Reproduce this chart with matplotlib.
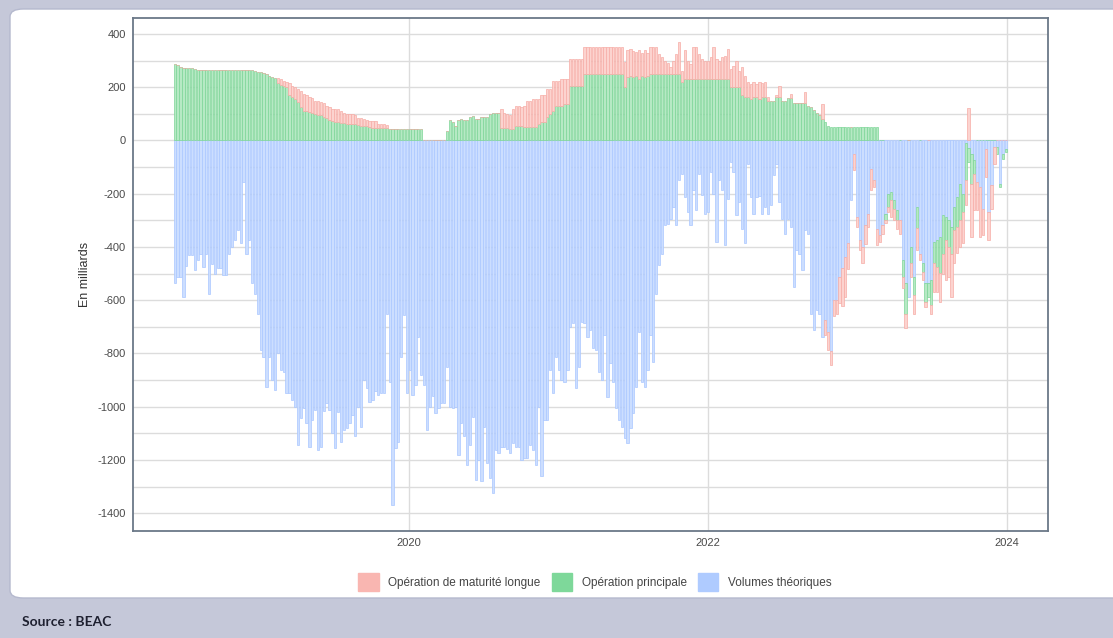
import numpy as np
import pandas as pd
import matplotlib.pyplot as plt
import matplotlib.dates as mdates
from matplotlib.patches import Patch, FancyBboxPatch

# weekly series (en milliards)
start_date = "2018-06-08"

op_principale = [
    287, 283, 275, 274, 273, 273, 272, 270, 266, 265, 265, 265, 265, 265, 265, 265, 265, 265,
    265, 265, 265, 265, 265, 265, 265, 265, 265, 263, 262, 258, 256, 252, 248, 244, 240, 236,
    215, 210, 206, 200, 170, 162, 155, 145, 125, 112, 110, 108, 103, 100, 96, 94, 90, 85,
    75, 72, 70, 68,
    65, 64, 62, 62, 62, 60, 58, 56, 56, 56, 52, 48, 47, 47, 47, 46, 45, 44,
    44, 44, 44, 44, 44, 44, 44, 44, 44, 44, 44, 0, 0, 0, 0, 0, 0, 0, 0,
    37, 75, 69, 56, 75, 80, 75, 75, 87, 91, 81, 81, 90, 88, 88, 100, 105, 105, 105, 48, 45,
    45, 44, 44, 56, 56, 56, 52, 52, 52, 52, 52, 60, 69, 69, 90, 100, 110, 131, 131, 131,
    137, 137, 206, 206, 206, 206, 206, 250, 250, 250, 250, 250, 250, 250, 250, 250, 250, 250,
    250, 250, 250, 200, 237, 244, 237, 244, 231, 244, 237, 244, 250, 250, 250, 250, 250, 250,
    250, 250, 250,
    250, 250, 220, 231, 231, 231, 231, 231, 231, 231, 231, 231, 231, 231, 231, 231, 231, 231,
    231, 200, 200, 200, 200, 169, 162, 162, 156, 162, 162, 156, 162, 162, 150, 150, 147, 162,
    162, 150, 150, 160, 160, 140, 140, 140, 140, 140, 131, 125, 115, 105, 95, 80, 68, 56,
    52, 52, 52, 52,
    52, 52, 52, 52, 52, 52, 52, 52, 52, 52, 52, 52, 52, 0, 0, -25, -50, -31, -31, -38,
    0, -62, -113, 0, -62, -69, -80, 0, -31, -69, -50, -94, -81, -100, -137, -144, -87, -100,
    -100, -87, -112, -137, -69, -140, -50, -112, -50, 0, 0, 0, 0, 0, 0, 0, -25, -12, -19, -12,
]

maturite_longue = [
    0, 0, 0, 0, 0, 0, 0, 0, 0, 0, 0, 0, 0, 0, 0, 0, 0, 0,
    0, 0, 0, 0, 0, 0, 0, 0, 0, 0, 0, 0, 0, 0, 0, 0, 0, 0,
    18, 20, 19, 20, 45, 43, 45, 47, 60, 63, 59, 57, 57, 50, 51, 51, 50, 45, 50, 48, 49, 51,
    45, 41, 38, 38, 38, 35, 27, 29, 24, 22, 22, 24, 25, 15, 13, 14, 13, 0,
    0, 0, 0, 0, 0, 0, 0, 0, 0, 0, 0, 0, 0, 0, 0, 0, 0, 0, 0,
    0, 0, 0, 0, 0, 0, 0, 0, 0, 0, 0, 0, 0, 0, 0, 0, 0, 0, 0, 72, 60,
    55, 50, 75, 75, 75, 70, 79, 98, 98, 104, 104, 96, 100, 100, 104, 94, 115, 94, 94, 100,
    94, 94, 100, 100, 100, 100, 100, 102, 102, 102, 102, 102, 102, 102, 102, 102, 102, 102,
    102, 102, 102, 94, 103, 100, 98, 90, 107, 86, 103, 86, 100, 102, 102, 75, 65, 50,
    40, 25, 50,
    75, 119, 42, 109, 69, 56, 119, 119, 94, 75, 69, 69, 81, 119, 75, 69, 81, 87,
    113, 69, 81, 100, 62, 106, 82, 57, 56, 57, 50, 63, 54, 57, 12, 0, 0, 7, 44, 0,
    0, 0, 15, 0, 0, 0, 0, 41, 0, 0, 0, 0, 0, 57, -56, -67, -55, -60, -50, -100,
    -140, -150, -94, 0, -62, -38, -37, -62, -69, -50, -81, -25, -63, -25, -31, -10, -19, -62,
    -44, -31, -50, -44, -56, 0, -50, -69, -82, -25, -32, -19, 0, -31, -107, -94, -107, -75,
    -150, -112, -162, -125, -100, -100, -118, -94, 122, -200, -137, -106, -187, -100, -106,
    -106, -87, -62, 0, 0, 0, 0,
]

volumes_theoriques = [
    -537, -512, -512, -587, -470, -431, -431, -487, -450, -425, -475, -425, -575, -465, -500,
    -480, -480, -506, -506, -425, -400, -375, -337, -387, -156, -425, -375, -537, -575, -650,
    -787, -812, -925, -812, -900, -937, -800, -862, -870, -950, -950, -975, -1000, -1143,
    -1044, -1006, -1060, -1150, -1050, -1012, -1162, -1150, -1018, -987, -1012, -1100, -1156,
    -1020,
    -1131, -1087, -1081, -1060, -1031, -1112, -1000, -1075, -900, -930, -981, -975, -940,
    -956, -950, -950, -650, -906, -1369, -1156, -1131, -812, -656, -950, -862, -956, -919,
    -737, -880, -919, -1087, -1000, -960, -1025, -1006, -987, -987, -850, -1000, -1006, -1000,
    -1181, -1062, -1112, -1219, -1144, -1037, -1275, -1200, -1281, -1075, -1212, -1269,
    -1325, -1162, -1175, -1150, -1150,
    -1160, -1175, -1137, -1150, -1150, -1200, -1194, -1194, -1144, -1162, -1219, -1000, -1262,
    -1050, -1050, -862, -950, -812, -862, -900, -906, -862, -700, -687, -931, -850, -681,
    -687, -737, -712, -781, -787, -869, -900, -731, -962, -837, -906, -1006, -1050, -1075,
    -1119, -1137, -1081, -1025, -925, -719, -906, -925, -862, -731, -831, -575, -469, -425,
    -319, -312, -294, -250,
    -319, -150, -125, -212, -269, -319, -187, -262, -125, -206, -275, -270, -119, -200, -381,
    -150, -187, -394, -219, -81, -119, -281, -231, -331, -387, -87, -212, -275, -212, -210,
    -275, -250, -275, -244, -131, -87, -231, -294, -350, -294, -325, -550, -412, -425, -487,
    -337, -350, -650, -712, -637, -650, -740, -675, -720, -790, -600, -600, -512,
    -480, -437, -387, -225, -50, -287, -375, -400, -319, -275, -106, -150, -331, -356, -319,
    -275, -200, -194, -225, -262, -300, -450, -537, -587, -400, -512, -250, -425, -462, -537,
    -537, -525, -381, -375, -362, -281, -287, -300, -325, -250, -212, -162, -200, -10, -30,
    -50, -75, -156, -175, -256, -31, -269, -169, -25, -25, -162, -50, -31,
]

labels = ["Opération de maturité longue", "Opération principale", "Volumes théoriques"]
legend_colors = ["#F9B6B1", "#7ED89A", "#AFCBFF"]
bar_faces = {"blue": "#CCDEFF", "green": "#B6E9C4", "pink": "#FCD3CF"}
bar_edges = {"blue": "#AAC7FF", "green": "#7DD697", "pink": "#F6ACA6"}

dates = pd.date_range(start_date, periods=len(volumes_theoriques), freq="7D")
x = mdates.date2num(dates)

plt.rcParams["font.family"] = ["Liberation Sans", "DejaVu Sans"]
plt.rcParams["axes.unicode_minus"] = False

fig = plt.figure(figsize=(11.13, 6.38), dpi=100)
fig.patch.set_facecolor("#C5C8D9")

# white card behind the chart
card = FancyBboxPatch((10 / 1113, 1 - 598 / 638), 1.2, 589 / 638,
                      boxstyle="round,pad=0,rounding_size=0.012",
                      transform=fig.transFigure, facecolor="white",
                      edgecolor="#B5B9CE", linewidth=1.0, zorder=-1)
fig.patches.append(card)

ax = fig.add_axes([133 / 1113, 1 - 531 / 638, 915 / 1113, 513 / 638])
ax.set_facecolor("white")

# stack like ggplot: positives upward (green then pink), negatives downward (blue, green, pink)
pos_base = np.zeros(len(x))
neg_base = np.zeros(len(x))
series = [("blue", volumes_theoriques), ("green", op_principale), ("pink", maturite_longue)]
for key, vals in series:
    v = np.array(vals, dtype=float)
    bottom = np.where(v >= 0, pos_base, neg_base)
    ax.bar(x, v, bottom=bottom, width=5.6, color=bar_faces[key],
           edgecolor=bar_edges[key], linewidth=0.5, zorder=2)
    pos_base = pos_base + np.where(v > 0, v, 0)
    neg_base = neg_base + np.where(v < 0, v, 0)

ax.set_xlim(mdates.date2num(pd.Timestamp("2018-02-26")),
            mdates.date2num(pd.Timestamp("2024-04-10")))
ax.set_ylim(-1467, 460)

ax.set_yticks(np.arange(-1400, 401, 200))
ax.set_yticks(np.arange(-1400, 401, 100), minor=True)
ax.set_xticks(mdates.date2num([pd.Timestamp(f"{y}-01-01") for y in (2020, 2022, 2024)]))
ax.set_xticklabels(["2020", "2022", "2024"])

ax.grid(True, which="both", axis="y", color="#DCDCDC", linewidth=1.0, zorder=0)
ax.grid(True, which="major", axis="x", color="#DCDCDC", linewidth=1.0, zorder=0)
ax.set_axisbelow(True)

ax.tick_params(axis="both", which="both", length=0, labelsize=8, colors="#4A4A4A", pad=5)
for s in ax.spines.values():
    s.set_color("#6B7888")
    s.set_linewidth(1.3)

ax.set_ylabel("En milliards", fontsize=9, color="#333333", labelpad=5)

handles = [Patch(facecolor=c, edgecolor=c) for c in legend_colors]
fig.legend(handles, labels, loc="center", bbox_to_anchor=(595 / 1113, 1 - 582 / 638),
           ncol=3, frameon=False, fontsize=8.5, handlelength=1.7, handleheight=1.9,
           columnspacing=1.0, handletextpad=0.8, labelcolor="#444444")

fig.text(22 / 1113, 1 - 622 / 638, "Source : BEAC", fontsize=10, fontweight="bold",
         family=["Lato", "DejaVu Sans"], color="#1E2030", va="center", ha="left")

fig.savefig("out.png", dpi=100, facecolor=fig.get_facecolor())
